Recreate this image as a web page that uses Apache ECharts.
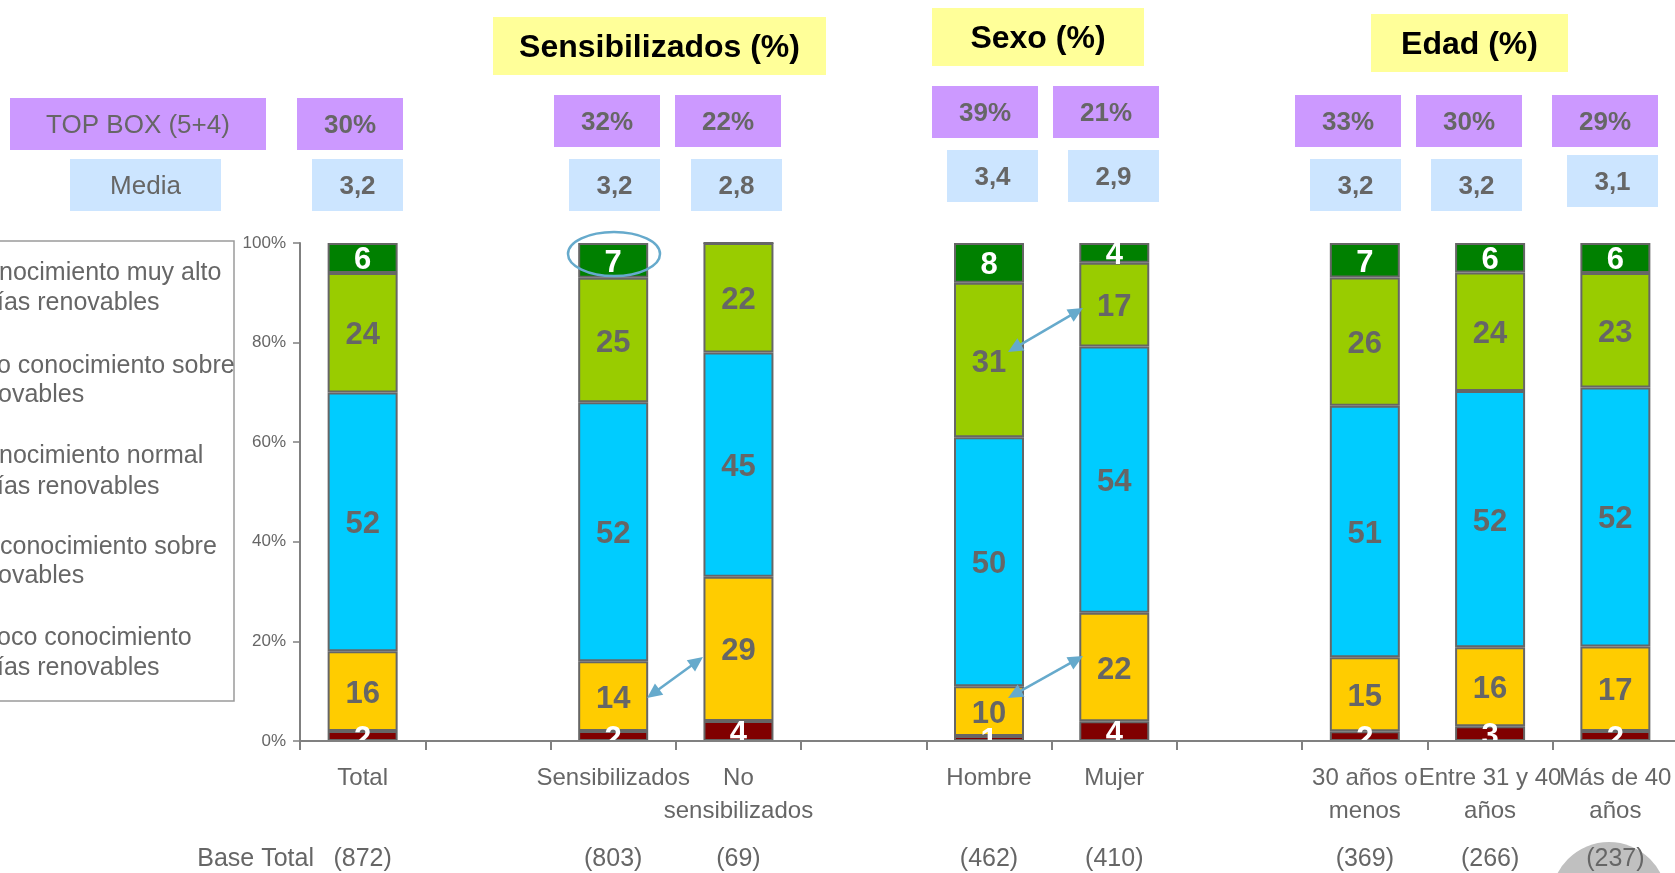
<!DOCTYPE html>
<html lang="es">
<head>
  <meta charset="UTF-8">
  <title>Conocimiento sobre energías renovables</title>
  <script src="https://cdn.jsdelivr.net/npm/echarts@6.0.0/dist/echarts.min.js"></script>
  <style>
    html, body { margin: 0; padding: 0; background: #fff; }
    #chart { width: 1675px; height: 873px; }
  </style>
</head>
<body>
<div id="chart"></div>
<script>
  // categorias (las vacias son huecos entre grupos)
  var categories = ['Total', '', 'Sensibilizados', 'No\nsensibilizados', '', 'Hombre', 'Mujer', '',
    '30 años o\nmenos', 'Entre 31 y 40\naños', 'Más de 40\naños'];
  var baseN = ['(872)', '', '(803)', '(69)', '', '(462)', '(410)', '', '(369)', '(266)', '(237)'];

  // valores (%) de abajo hacia arriba
  var muyPoco  = [2, null, 2, 4, null, 1, 4, null, 2, 3, 2];
  var poco     = [16, null, 14, 29, null, 10, 22, null, 15, 16, 17];
  var normal   = [52, null, 52, 45, null, 50, 54, null, 51, 52, 52];
  var bastante = [24, null, 25, 22, null, 31, 17, null, 26, 24, 23];
  var muyAlto  = [6, null, 7, 0, null, 8, 4, null, 7, 6, 6];

  var seriesNames = ['Muy poco conocimiento', 'Poco conocimiento', 'Conocimiento normal',
    'Mucho conocimiento', 'Conocimiento muy alto'];

  // fila TOP BOX y Media
  var topBox = [30, 32, 22, 39, 21, 33, 30, 29];
  var media = [3.2, 3.2, 2.8, 3.4, 2.9, 3.2, 3.2, 3.1];
  var headers = ['Sensibilizados (%)', 'Sexo (%)', 'Edad (%)'];

  // textos visibles de la leyenda (cortada por la izquierda)
  var legendLines = [
    ['nocimiento muy alto', 'ías renovables'],
    ['o conocimiento sobre', 'ovables'],
    ['nocimiento normal', 'ías renovables'],
    ['conocimiento sobre', 'ovables'],
    ['oco conocimiento', 'ías renovables']
  ];

  var FONT = 'Liberation Sans, Arial, sans-serif';
  var GREY = '#666666';
  var colors = ['#800000', '#FFCC00', '#00CCFF', '#99CC00', '#008000'];
  var labelColors = ['#ffffff', GREY, GREY, GREY, '#ffffff'];

  var raw = [muyPoco, poco, normal, bastante, muyAlto];
  var totals = categories.map(function (c, i) {
    var s = 0;
    raw.forEach(function (arr) { s += arr[i] || 0; });
    return s;
  });

  var series = raw.map(function (arr, k) {
    return {
      name: seriesNames[k],
      type: 'bar',
      stack: 'all',
      barWidth: 70,
      data: arr.map(function (v, i) { return v == null ? null : v / totals[i] * 100; }),
      itemStyle: { color: colors[k], borderColor: GREY, borderWidth: 2 },
      label: {
        show: true,
        position: 'inside',
        offset: [0, 3],
        fontFamily: FONT,
        fontSize: 31,
        fontWeight: 'bold',
        color: labelColors[k],
        formatter: function (p) {
          var v = arr[p.dataIndex];
          return v ? String(v) : '';
        }
      }
    };
  });

  // posiciones de las cajas superiores
  var headerBoxes = [[493, 17, 333, 58], [932, 8, 212, 58], [1371, 14, 197, 58]];
  var topBoxes = [[297, 98], [554, 95], [675, 95], [932, 86], [1053, 86], [1295, 95], [1416, 95], [1552, 95]];
  var mediaBoxes = [[312, 159], [569, 159], [691, 159], [947, 150], [1068, 150], [1310, 159], [1431, 159], [1567, 155]];

  function box(x, y, w, h, fill, text, size, weight, color) {
    return [{
      type: 'rect', z: 1,
      shape: { x: x, y: y, width: w, height: h },
      style: { fill: fill }
    }, {
      type: 'text', z: 2,
      x: x + w / 2, y: y + h / 2 + 2,
      style: { text: text, fontFamily: FONT, fontSize: size, fontWeight: weight, fill: color,
        align: 'center', verticalAlign: 'middle' }
    }];
  }

  function arrow(x1, y1, x2, y2) {
    var col = '#66AACC', len = 15, half = 7;
    var ang = Math.atan2(y2 - y1, x2 - x1);
    function head(x, y, a) {
      var bx = x - Math.cos(a) * len, by = y - Math.sin(a) * len;
      return {
        type: 'polygon', z: 5,
        shape: { points: [[x, y], [bx - Math.sin(a) * half, by + Math.cos(a) * half], [bx + Math.sin(a) * half, by - Math.cos(a) * half]] },
        style: { fill: col }
      };
    }
    return [
      { type: 'line', z: 5, shape: { x1: x1 + Math.cos(ang) * 10, y1: y1 + Math.sin(ang) * 10, x2: x2 - Math.cos(ang) * 10, y2: y2 - Math.sin(ang) * 10 },
        style: { stroke: col, lineWidth: 2.5 } },
      head(x2, y2, ang),
      head(x1, y1, ang + Math.PI)
    ];
  }

  var graphics = [];

  headers.forEach(function (t, i) {
    var b = headerBoxes[i];
    graphics = graphics.concat(box(b[0], b[1], b[2], b[3], '#FFFF99', t, 32, 'bold', '#000000'));
  });
  graphics = graphics.concat(box(10, 98, 256, 52, '#CC99FF', 'TOP BOX (5+4)', 26, 'normal', GREY));
  graphics = graphics.concat(box(70, 159, 151, 52, '#CCE5FF', 'Media', 26, 'normal', GREY));
  topBox.forEach(function (v, i) {
    graphics = graphics.concat(box(topBoxes[i][0], topBoxes[i][1], 106, 52, '#CC99FF', v + '%', 26, 'bold', GREY));
  });
  media.forEach(function (v, i) {
    graphics = graphics.concat(box(mediaBoxes[i][0], mediaBoxes[i][1], 91, 52, '#CCE5FF', v.toFixed(1).replace('.', ','), 26, 'bold', GREY));
  });

  // leyenda
  graphics.push({
    type: 'rect', z: 1,
    shape: { x: -10, y: 241, width: 244, height: 460 },
    style: { fill: '#ffffff', stroke: '#9a9a9a', lineWidth: 1.5 }
  });
  var legendY = [[273, 303], [366, 395], [456, 487], [547, 576], [638, 668]];
  var legendX = [[-1, -3], [-3, -2], [-1, -3], [0, -2], [-3, -3]];
  legendLines.forEach(function (pair, i) {
    pair.forEach(function (t, j) {
      graphics.push({
        type: 'text', z: 2,
        x: legendX[i][j], y: legendY[i][j],
        style: { text: t, fontFamily: FONT, fontSize: 25, fill: GREY, verticalAlign: 'middle', align: 'left' }
      });
    });
  });

  graphics.push({
    type: 'text', z: 2, x: 314, y: 859,
    style: { text: 'Base Total', fontFamily: FONT, fontSize: 25, fill: GREY, align: 'right', verticalAlign: 'middle' }
  });

  // circulo gris abajo a la derecha
  graphics.push({ type: 'circle', z: 1, shape: { cx: 1609, cy: 900, r: 58 }, style: { fill: '#C0C0C0' } });

  // recorte de etiquetas bajo el eje
  graphics.push({ type: 'rect', z: 3, shape: { x: 301, y: 742, width: 1380, height: 11 }, style: { fill: '#ffffff' } });

  // anotaciones
  graphics.push({
    type: 'ellipse', z: 5,
    shape: { cx: 614, cy: 254, rx: 46, ry: 22 },
    style: { fill: 'none', stroke: '#66AACC', lineWidth: 2.5 }
  });
  graphics = graphics.concat(arrow(647, 698, 703, 657));
  graphics = graphics.concat(arrow(1008, 352, 1083, 308));
  graphics = graphics.concat(arrow(1008, 698, 1083, 656));

  var chart = echarts.init(document.getElementById('chart'));
  chart.setOption({
    animation: false,
    textStyle: { fontFamily: FONT },
    grid: { left: 300, right: -3, top: 243, bottom: 132, containLabel: false, outerBoundsMode: 'none' },
    xAxis: [{
      type: 'category',
      data: categories,
      z: 4,
      axisLine: { lineStyle: { color: '#808080', width: 2 } },
      axisTick: { show: true, length: 9, lineStyle: { color: '#808080', width: 2 } },
      axisLabel: { interval: 0, margin: 21, fontSize: 24, lineHeight: 33, color: GREY, fontFamily: FONT }
    }, {
      type: 'category',
      data: baseN,
      position: 'bottom',
      z: 4,
      axisLine: { show: false },
      axisTick: { show: false },
      axisLabel: { interval: 0, margin: 106, fontSize: 25, lineHeight: 25, color: GREY, fontFamily: FONT }
    }],
    yAxis: {
      type: 'value',
      min: 0, max: 100, interval: 20,
      axisLine: { show: true, lineStyle: { color: '#808080', width: 2 } },
      axisTick: { show: true, length: 7, lineStyle: { color: '#808080', width: 1.5 } },
      splitLine: { show: false },
      axisLabel: { formatter: '{value}%', fontSize: 17, color: GREY, margin: 14, fontFamily: FONT }
    },
    series: series,
    graphic: graphics
  });
</script>
</body>
</html>
